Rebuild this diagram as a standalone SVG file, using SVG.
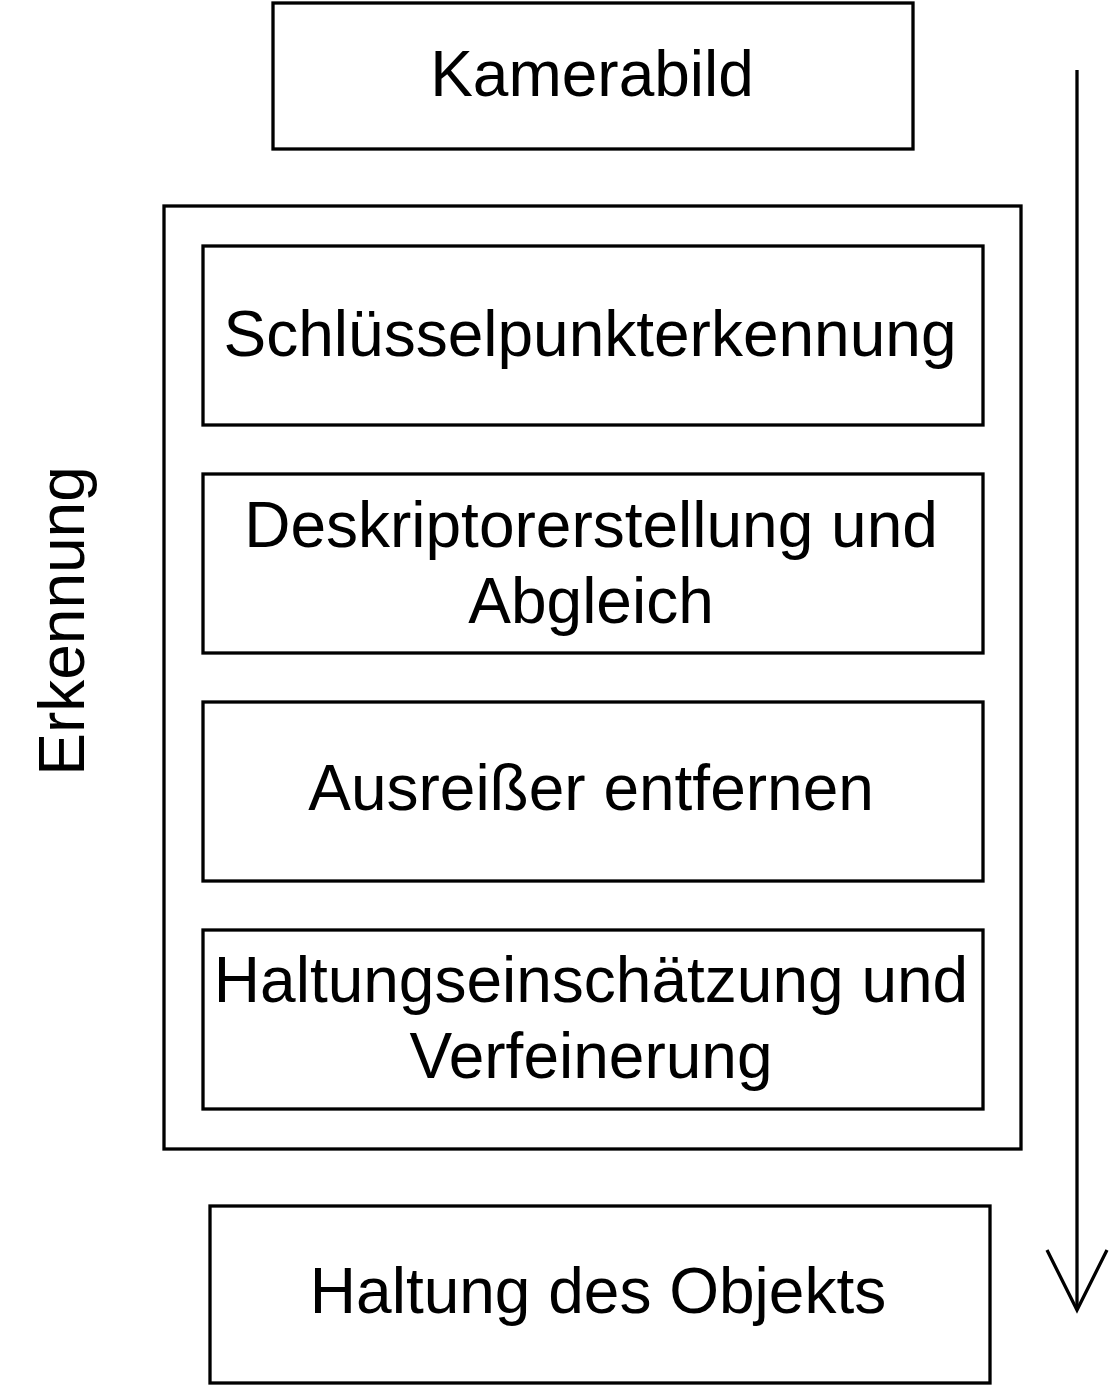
<svg xmlns="http://www.w3.org/2000/svg" width="1112" height="1392" viewBox="0 0 1112 1392">
<style>
.box{fill:#fff;stroke:#000;stroke-width:3.3}
.t{font-family:"Liberation Sans",Arial,sans-serif;font-size:64px;fill:#000;text-anchor:middle}
.c{fill:none;stroke:#000;stroke-width:3.3}
</style>
<rect width="1112" height="1392" fill="#fff"/>
<g id="kamerabild"><rect class="box" x="273" y="3" width="640" height="146"/><text class="t" x="592" y="96">Kamerabild</text></g>
<g id="erkennung"><rect class="box" x="164" y="206" width="857" height="943"/><text class="t" transform="translate(84,621) rotate(-90)">Erkennung</text></g>
<g id="schluessel"><rect class="box" x="203" y="246" width="780" height="179"/><text class="t" x="590" y="356">Schlüsselpunkterkennung</text></g>
<g id="deskriptor"><rect class="box" x="203" y="474" width="780" height="179"/><text class="t" x="591" y="547">Deskriptorerstellung und</text><text class="t" x="591" y="623">Abgleich</text></g>
<g id="ausreisser"><rect class="box" x="203" y="702" width="780" height="179"/><text class="t" x="591" y="810">Ausreißer entfernen</text></g>
<g id="haltungseinschaetzung"><rect class="box" x="203" y="930" width="780" height="179"/><text class="t" x="591" y="1002">Haltungseinschätzung und</text><text class="t" x="591" y="1078">Verfeinerung</text></g>
<g id="haltung"><rect class="box" x="210" y="1206" width="780" height="177"/><text class="t" x="598" y="1313">Haltung des Objekts</text></g>
<g id="connectors"><line class="c" x1="1077" y1="70" x2="1077" y2="1309"/><polyline class="c" points="1047,1250 1077,1310 1107,1250"/></g>
</svg>
